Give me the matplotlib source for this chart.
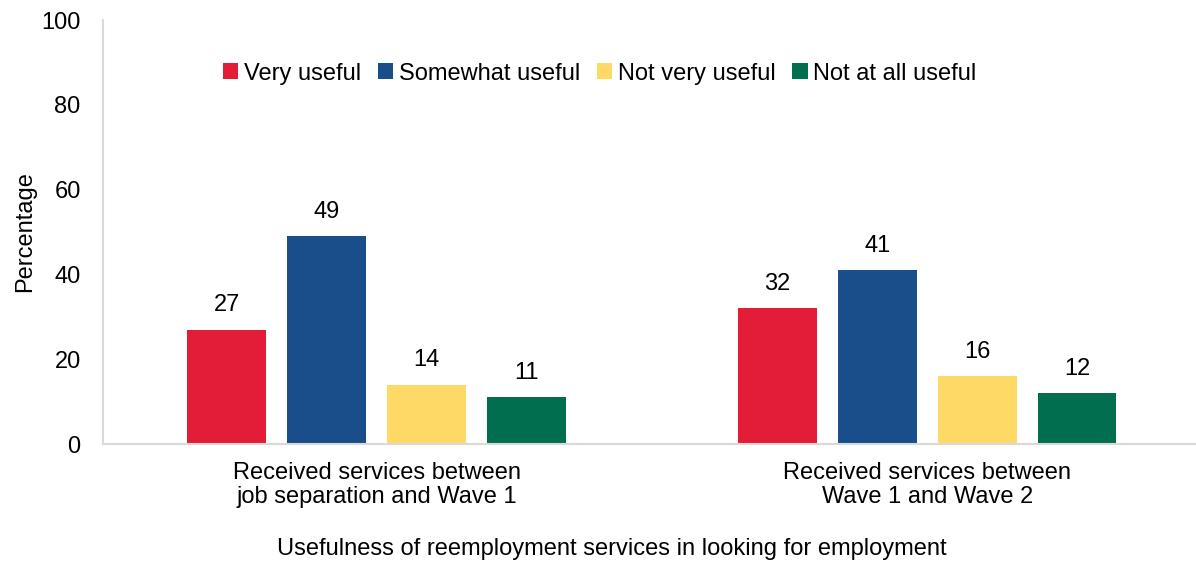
import matplotlib.pyplot as plt
import numpy as np

plt.rcParams['font.family'] = ['Liberation Sans', 'DejaVu Sans']

groups = ["Received services between\njob separation and Wave 1",
          "Received services between\nWave 1 and Wave 2"]
series = ["Very useful", "Somewhat useful", "Not very useful", "Not at all useful"]
very_useful = [27, 32]
somewhat_useful = [49, 41]
not_very_useful = [14, 16]
not_at_all_useful = [11, 12]
colors = ["#E31D37", "#1A4E8A", "#FFD966", "#006E4F"]

values = [very_useful, somewhat_useful, not_very_useful, not_at_all_useful]
fs = 17

fig = plt.figure(figsize=(11.96, 5.66), dpi=100)
ax = fig.add_axes([0.086, 0.2155, 0.913, 0.749])

x = np.arange(len(groups))
step = 0.1815
width = 0.143
for i, (name, vals, c) in enumerate(zip(series, values, colors)):
    pos = x + (i - 1.5) * step
    bars = ax.bar(pos, vals, width, color=c, label=name)
    for b, v in zip(bars, vals):
        ax.text(b.get_x() + b.get_width() / 2, v + 3.2, str(v),
                ha='center', va='bottom', fontsize=fs)

ax.set_xlim(-0.497, 1.486)
ax.set_ylim(0, 100)
ax.set_yticks(range(0, 101, 20))
ax.set_xticks(x)
ax.set_xticklabels(groups, fontsize=fs, linespacing=1.1)
ax.tick_params(axis='both', length=0, labelsize=fs)
ax.tick_params(axis='x', pad=13)
ax.tick_params(axis='y', pad=16)

for s in ['top', 'right']:
    ax.spines[s].set_visible(False)
for s in ['left', 'bottom']:
    ax.spines[s].set_color('#D9D9D9')
    ax.spines[s].set_linewidth(1.5)

ax.set_ylabel("Percentage", fontsize=fs, labelpad=4)
ax.set_xlabel("Usefulness of reemployment services in looking for employment",
              fontsize=fs, labelpad=22)
# axis title sits nearer the figure centre than the plot centre
ax.xaxis.label.set_x(0.466)

ax.legend(loc='upper center', bbox_to_anchor=(0.455, 0.95), ncol=4, frameon=False,
          fontsize=fs, handlelength=0.65, handleheight=0.65, handletextpad=0.25,
          columnspacing=0.7)

fig.savefig("out.png", dpi=100)
